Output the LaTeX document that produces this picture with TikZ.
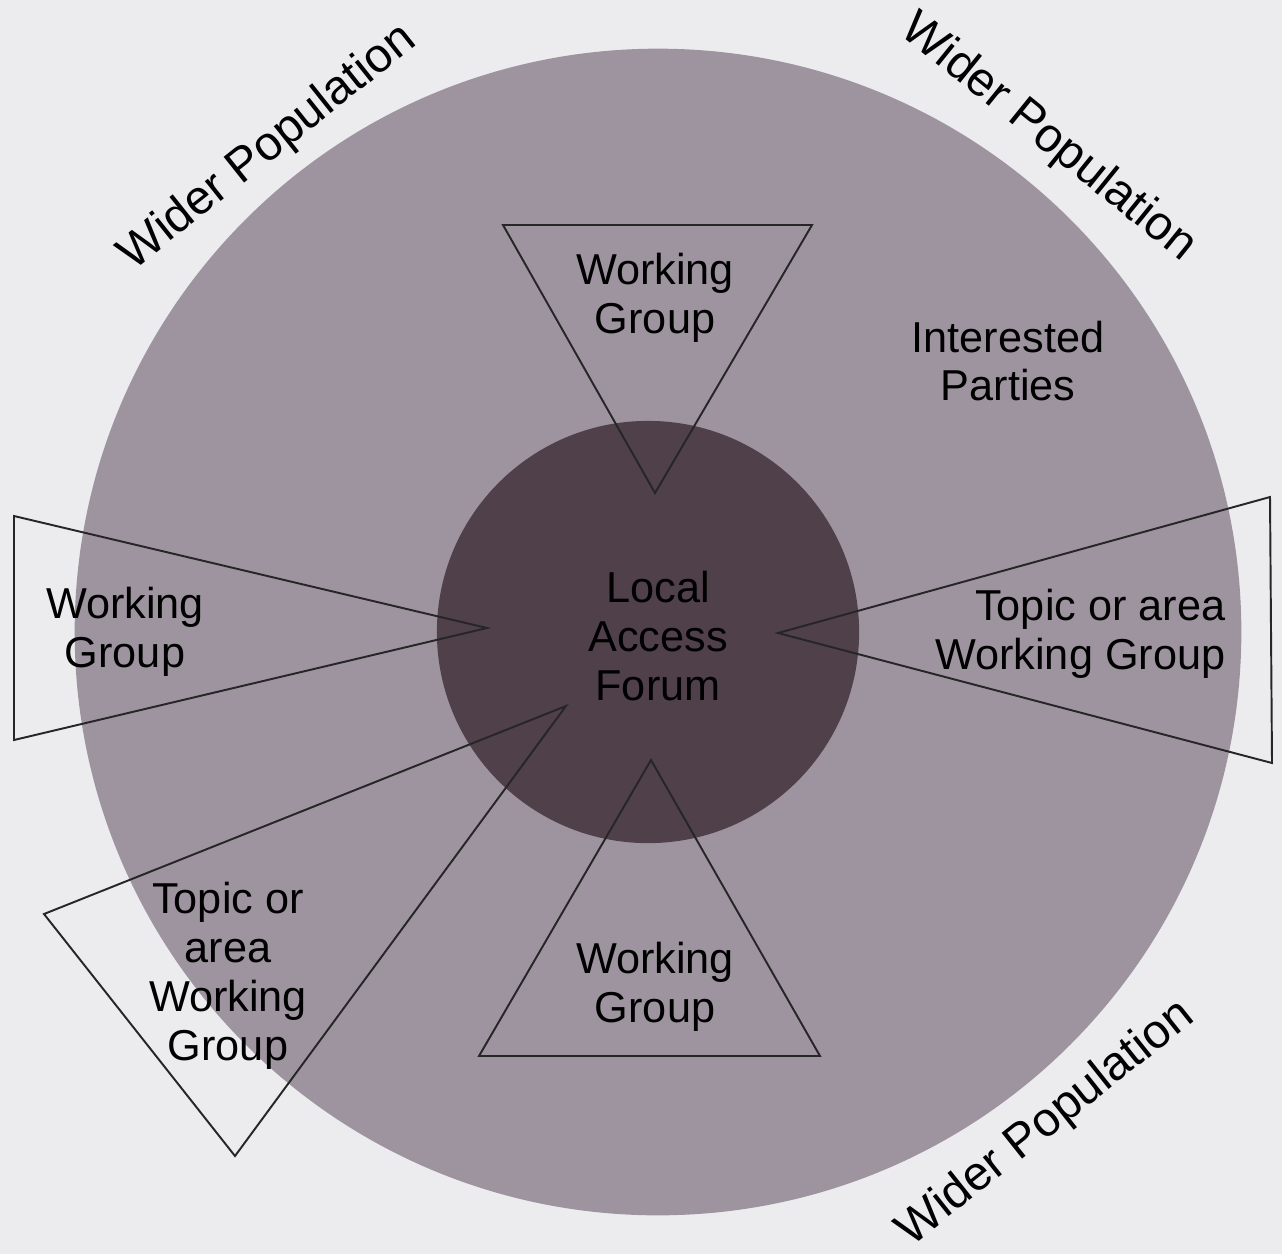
\documentclass[tikz,border=0pt]{standalone}
\usepackage{fontspec}
\setmainfont{Liberation Sans}
\definecolor{paper}{RGB}{236,236,238}
\definecolor{ring}{RGB}{158,148,160}
\definecolor{forumfill}{RGB}{80,64,74}

\begin{document}
\begin{tikzpicture}[
  x=0.01cm, y=-0.01cm,
  every node/.style={
    align=center,
    inner sep=0pt,
    font=\fontsize{12.3}{13.9}\selectfont
  },
  wider/.style={font=\fontsize{13.6}{16}\selectfont},
  group/.style={draw=black!85, line width=0.55pt}
]
\fill[paper] (0,0) rectangle (1282,1254);
\useasboundingbox (0,0) rectangle (1282,1254);

% circles
\node[circle, fill=ring, minimum size=11.66cm] (population) at (658,632) {};
\node[circle, fill=forumfill, minimum size=4.22cm] (forum) at (648,632) {};

% working groups
\draw[group] (503,225) -- (812,225) -- (655,493) -- cycle;
\draw[group] (14,516) -- (14,740) -- (487,628) -- cycle;
\draw[group] (1270,497) -- (1272,763) -- (778,633) -- cycle;
\draw[group] (651,760) -- (820,1056) -- (479,1056) -- cycle;
\draw[group] (566,706) -- (44,914) -- (235,1156) -- cycle;

% labels
\node (forumtext) at (658,636) {Local\\Access\\Forum};
\node (wgtop) at (655,298) {Working\\Group};
\node (wgleft) at (125,632) {Working\\Group};
\node (wgbottom) at (655,987) {Working\\Group};
\node[anchor=east, align=right] (wgright) at (1226,634) {Topic or area\\Working Group};
\node (wglowleft) at (228,976) {Topic or\\area\\Working\\Group};
\node (parties) at (1008,361) {Interested\\Parties};

\node[wider, rotate=38.5] (widerleft) at (268,148) {Wider Population};
\node[wider, rotate=-39] (widerright) at (1048,138) {Wider Population};
\node[wider, rotate=38.5] (widerbottom) at (1046,1124) {Wider Population};
\end{tikzpicture}
\end{document}
